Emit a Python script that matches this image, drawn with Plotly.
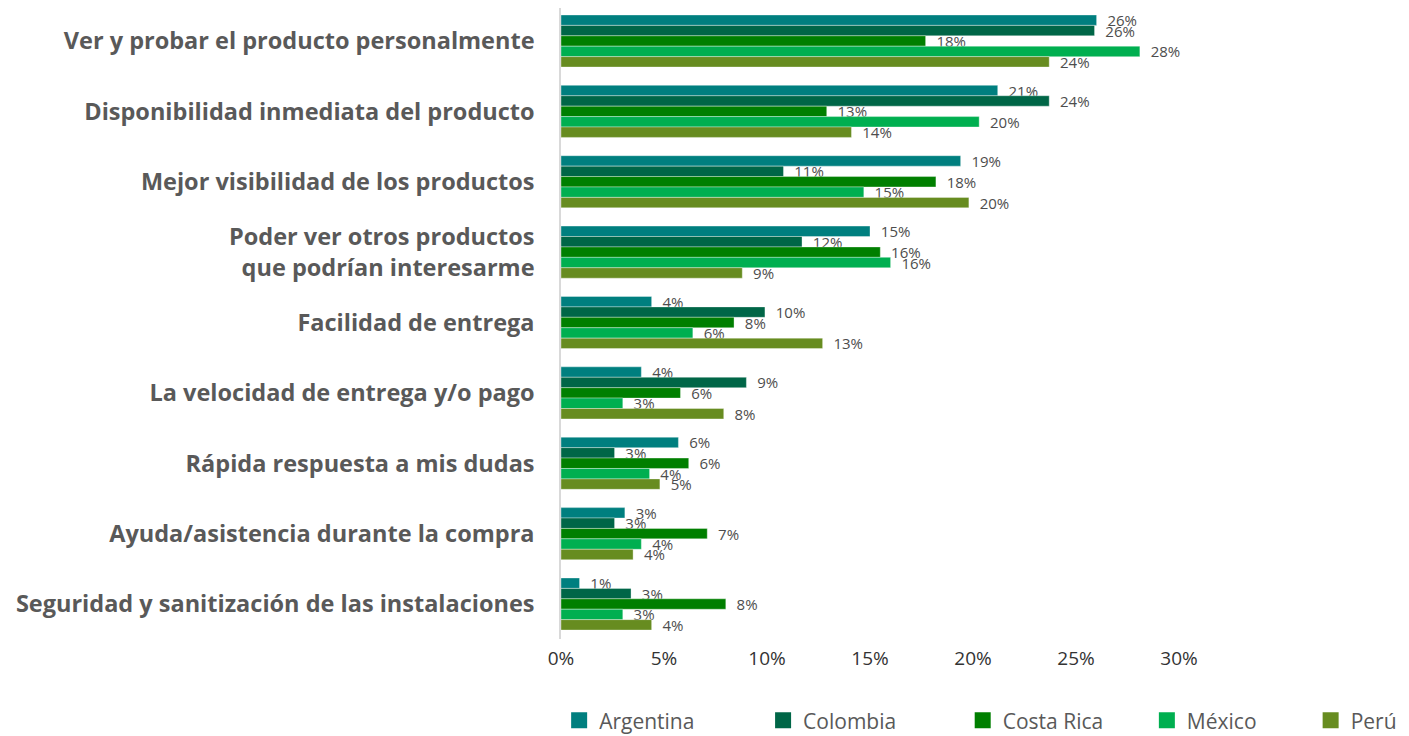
# Import packages
import plotly.graph_objects as go

# Categories (top to bottom) and values, in percent
categories = [
    "Ver y probar el producto personalmente",
    "Disponibilidad inmediata del producto",
    "Mejor visibilidad de los productos",
    "Poder ver otros productos<br>que podrían interesarme",
    "Facilidad de entrega",
    "La velocidad de entrega y/o pago",
    "Rápida respuesta a mis dudas",
    "Ayuda/asistencia durante la compra",
    "Seguridad y sanitización de las instalaciones",
]
argentina = [26.0, 21.2, 19.4, 15.0, 4.4, 3.9, 5.7, 3.1, 0.9]
colombia = [25.9, 23.7, 10.8, 11.7, 9.9, 9.0, 2.6, 2.6, 3.4]
costa_rica = [17.7, 12.9, 18.2, 15.5, 8.4, 5.8, 6.2, 7.1, 8.0]
mexico = [28.1, 20.3, 14.7, 16.0, 6.4, 3.0, 4.3, 3.9, 3.0]
peru = [23.7, 14.1, 19.8, 8.8, 12.7, 7.9, 4.8, 3.5, 4.4]

countries = ["Argentina", "Colombia", "Costa Rica", "México", "Perú"]
series = [argentina, colombia, costa_rica, mexico, peru]
colors = ["#007F7F", "#006647", "#007F00", "#00AF50", "#678C20"]

tick_vals = [0, 5, 10, 15, 20, 25, 30]
tick_text = ["0%", "5%", "10%", "15%", "20%", "25%", "30%"]

# each legend entry gets its own legend box so the spacing matches the original
legend_names = ["legend", "legend2", "legend3", "legend4", "legend5"]
legend_x = [-0.003, 0.327, 0.650, 0.948, 1.213]

fig = go.Figure()
for name, vals, col, leg in zip(countries, series, colors, legend_names):
    fig.add_trace(go.Bar(
        y=categories, x=vals, name=name, orientation="h",
        marker=dict(color=col, line=dict(color="rgba(255,255,255,0.5)", width=0.7)),
        texttemplate="\u00a0\u00a0%{x:.0f}%", textposition="outside",
        textfont=dict(size=15, color="#4D4D4D", family="Open Sans"),
        constraintext="none", cliponaxis=False, showlegend=False,
    ))
    # bigger square markers for the legend
    fig.add_trace(go.Scatter(
        x=[None], y=[None], mode="markers", name=name, legend=leg,
        marker=dict(symbol="square", size=20, color=col),
    ))

# page body adds an 8px margin, so the figure is 8px smaller than the window
fig.update_layout(
    template="simple_white", width=1401, height=728,
    font=dict(family="Open Sans", color="#595959"),
    barmode="group", bargap=0.26, bargroupgap=0,
    margin=dict(l=553, r=230, t=0, b=97),
    plot_bgcolor="white", paper_bgcolor="white",
)
for leg, lx in zip(legend_names, legend_x):
    fig.update_layout({leg: dict(x=lx, xanchor="left", y=0.021, yref="container",
                                 yanchor="middle", itemsizing="trace",
                                 bgcolor="rgba(0,0,0,0)",
                                 font=dict(size=21, color="#595959"))})

fig.update_xaxes(range=[0, 30], tickvals=tick_vals, ticktext=tick_text,
                 showline=False, ticks="", showgrid=False, zeroline=False, automargin=False,
                 ticklabelstandoff=6, tickfont=dict(size=19, color="#333333"))
# reversed category axis, nudged up a little like the original
fig.update_yaxes(range=[8.497, -0.469], showline=True, linecolor="#D9D9D9", linewidth=1.5,
                 ticks="", ticklabelstandoff=20, automargin=False,
                 tickfont=dict(size=23.5, color="#595959", family="Open Sans", weight="bold"))

fig.write_html("out.html")
